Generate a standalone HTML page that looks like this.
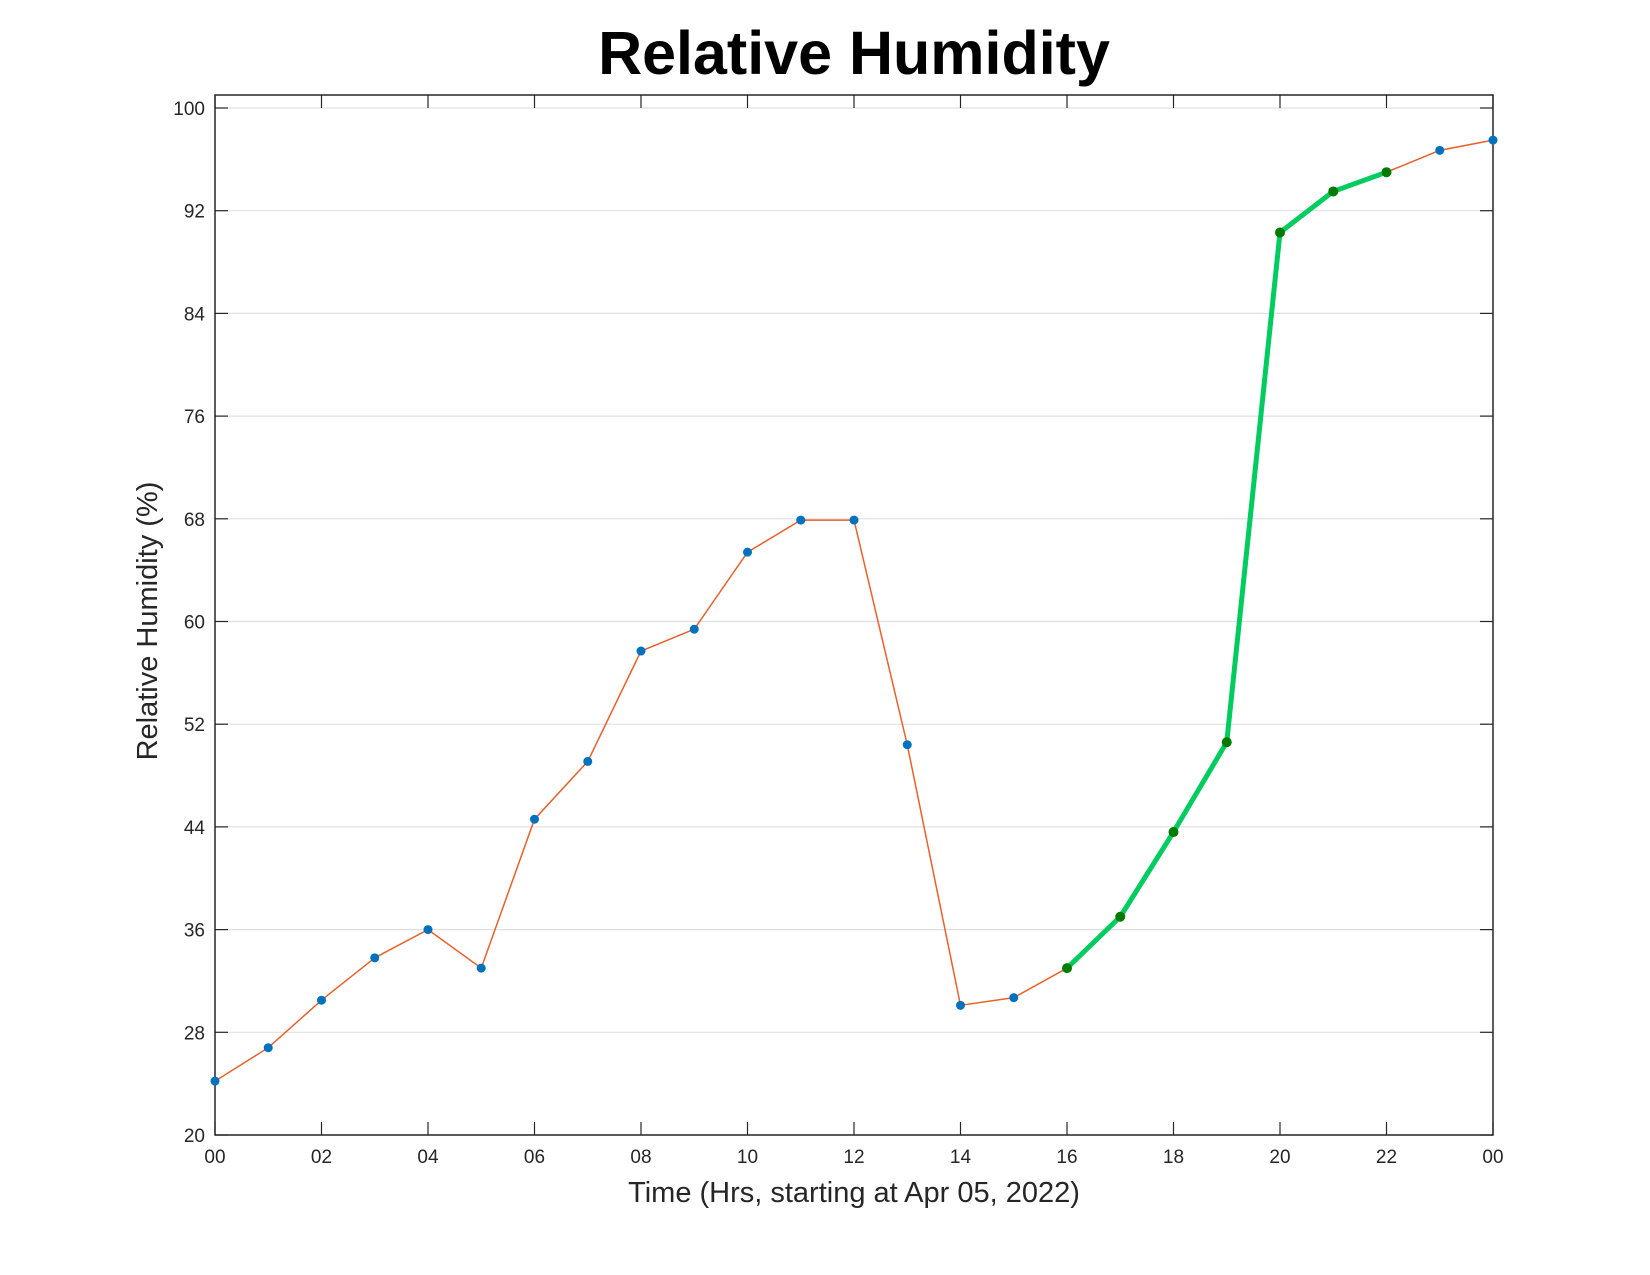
<!DOCTYPE html>
<html><head><meta charset="utf-8"><style>
body{margin:0;background:#fff;}
svg{display:block;font-family:"Liberation Sans",sans-serif;}
</style></head><body>
<svg id="c" width="1650" height="1275" xmlns="http://www.w3.org/2000/svg">
<text x="854" y="74" text-anchor="middle" font-size="61" font-weight="bold">Relative Humidity</text>
<text x="854" y="1202" text-anchor="middle" font-size="29" fill="#262626">Time (Hrs, starting at Apr 05, 2022)</text>
<text transform="translate(157,621) rotate(-90)" text-anchor="middle" font-size="29" fill="#262626">Relative Humidity (%)</text>
<g id="grid"></g><g id="axes"></g><g id="series"></g>
</svg>
<script>
const hours=[0,1,2,3,4,5,6,7,8,9,10,11,12,13,14,15,16,17,18,19,20,21,22,23,24];
const humidity=[24.2,26.8,30.5,33.8,36.0,33.0,44.6,49.1,57.7,59.4,65.4,67.9,67.9,50.4,30.1,30.7,33.0,37.0,43.6,50.6,90.3,93.5,95.0,96.7,97.5];
const highlightStart=16, highlightEnd=22;
const yTicks=[20,28,36,44,52,60,68,76,84,92,100];
const xTicks=[0,2,4,6,8,10,12,14,16,18,20,22,24];
const xTickLabels=["00","02","04","06","08","10","12","14","16","18","20","22","00"];
const L=215,R=1493,T=95,B=1135;
const X=h=>L+(h-0)/24*(R-L);
const Y=v=>B-(v-20)/80*(1135-108);
const ns="http://www.w3.org/2000/svg";
function mk(tag,attrs,parent){const e=document.createElementNS(ns,tag);for(const k in attrs)e.setAttribute(k,attrs[k]);parent.appendChild(e);return e;}
const grid=document.getElementById('grid'),axes=document.getElementById('axes'),ser=document.getElementById('series');
yTicks.forEach(v=>{
 const g=mk('line',{x1:L,x2:R,y1:Y(v),y2:Y(v),stroke:'#e0e0e0','stroke-width':1.2},grid);
 
 
 mk('line',{x1:L,x2:L+13,y1:Y(v),y2:Y(v),stroke:'#262626','stroke-width':1.2},axes);
 mk('line',{x1:R-13,x2:R,y1:Y(v),y2:Y(v),stroke:'#262626','stroke-width':1.2},axes);
 const t=mk('text',{x:L-10,y:Y(v)+7,'text-anchor':'end','font-size':19,fill:'#262626'},axes);
 t.textContent=v;
 
 
});
xTicks.forEach((h,i)=>{
 mk('line',{x1:X(h),x2:X(h),y1:B,y2:B-13,stroke:'#262626','stroke-width':1.2},axes);
 mk('line',{x1:X(h),x2:X(h),y1:T,y2:T+13,stroke:'#262626','stroke-width':1.2},axes);
 const t=mk('text',{x:X(h),y:B+28,'text-anchor':'middle','font-size':19,fill:'#262626'},axes);
 t.textContent=xTickLabels[i];
 
 
});
const box=mk('rect',{x:L,y:T,width:R-L,height:B-T,fill:'none',stroke:'#262626','stroke-width':1.5},axes);


const pts=hours.map((h,i)=>X(h)+','+Y(humidity[i])).join(' ');
const line=mk('polyline',{points:pts,fill:'none',stroke:'#e8602a','stroke-width':1.5},ser);


const hp=hours.map((h,i)=>i>=highlightStart&&i<=highlightEnd?X(h)+','+Y(humidity[i]):null).filter(Boolean).join(' ');
const hl=mk('polyline',{points:hp,fill:'none',stroke:'#00cc5f','stroke-width':5,'stroke-linejoin':'round'},ser);


hours.forEach((h,i)=>{
 const g=i>=highlightStart&&i<=highlightEnd;
 const c=mk('circle',{cx:X(h),cy:Y(humidity[i]),r:g?5:4.5,fill:g?'#007a00':'#0072bd'},ser);
 
 
});
</script>
</body></html>
